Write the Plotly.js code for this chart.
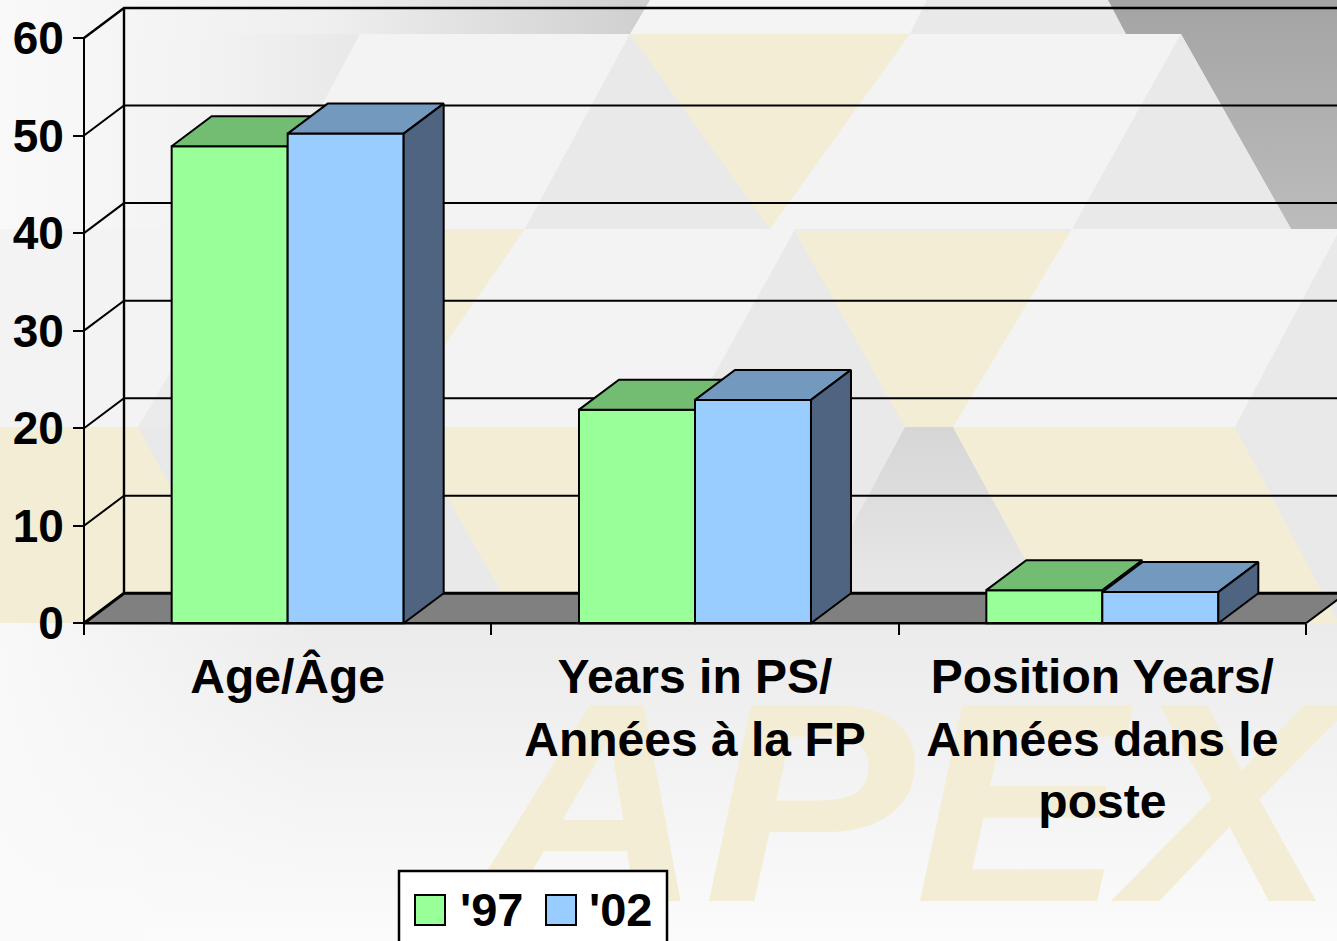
<!DOCTYPE html>
<html><head><meta charset="utf-8">
<script src="https://cdn.plot.ly/plotly-3.0.1.min.js"></script>
<style>html,body{margin:0;padding:0;overflow:hidden;background:#f6f6f6}</style>
</head><body><div id="chart" style="width:1337px;height:941px"></div>
<script>
const categories = ["Age/Âge", "Years in PS/<br>Années à la FP", "Position Years/<br>Années dans le<br>poste"];
const categoryCenters = [0.5, 1.5, 2.5];
const categoryEdges = [0, 1, 2, 3];
const seriesNames = ["'97", "'02"];
const values97 = [48.9, 21.9, 3.4];
const values02 = [50.2, 22.9, 3.2];
const yTicks = [0, 10, 20, 30, 40, 50, 60];

const W = 1337, H = 941, L = 78, R = 1337, T = 2, B = 630;
const originX = 84, originY = 623.3;
const catPx = 407.33, valPx = 9.755;
const xRange = [(L - originX) / catPx, (R - originX) / catPx];
const yRange = [(originY - B) / valPx, (originY - T) / valPx];
const px = x => (x - L) / (R - L), py = y => (B - y) / (B - T);
const barW = 116 / catPx, dx = 40 / catPx, dy = 30 / valPx;
const INK = '#000';

const bgSvg = `<svg xmlns="http://www.w3.org/2000/svg" width="${W}" height="${H}" viewBox="0 0 ${W} ${H}">
<defs>
<linearGradient id="a" x1="0" x2="1" y1="0" y2="0"><stop offset="0" stop-color="#f9f9f9"/><stop offset="0.6" stop-color="#f2f2f2"/><stop offset="1" stop-color="#e8e8e8"/></linearGradient>
<linearGradient id="t" x1="0" x2="1" y1="0" y2="0"><stop offset="0" stop-color="#f9f9f9"/><stop offset="0.5" stop-color="#efefef"/><stop offset="1" stop-color="#cfcfcf"/></linearGradient>
<linearGradient id="d" x1="0" x2="0" y1="0" y2="1"><stop offset="0" stop-color="#a4a4a4"/><stop offset="1" stop-color="#bcbcbc"/></linearGradient>
<linearGradient id="g" x1="0" x2="0" y1="0" y2="1"><stop offset="0" stop-color="#d6d6d6"/><stop offset="1" stop-color="#ebebeb"/></linearGradient>
<linearGradient id="b" x1="0" x2="0" y1="0" y2="1"><stop offset="0" stop-color="#ebebeb"/><stop offset="1" stop-color="#fbfbfb"/></linearGradient>
<linearGradient id="bl" x1="0" x2="1" y1="0" y2="0"><stop offset="0" stop-color="#fafafa" stop-opacity="0.9"/><stop offset="1" stop-color="#fafafa" stop-opacity="0"/></linearGradient>
</defs>
<rect width="${W}" height="${H}" fill="#ebebeb"/>
<rect x="0" y="0" width="650" height="34" fill="url(#t)"/>
<polygon points="650,0 927,0 910,34 630,34" fill="#f4f4f4"/>
<polygon points="927,0 1108,0 1126,34 910,34" fill="#e9e9e9"/>
<polygon points="1108,0 1337,0 1337,229 1291,229 1181,34 1126,34" fill="url(#d)"/>
<polygon points="0,34 360,34 255,229 0,229" fill="url(#a)"/>
<polygon points="360,34 630,34 525,229 255,229" fill="#f3f3f3"/>
<polygon points="630,34 770,229 525,229" fill="#e9e9e9"/>
<polygon points="630,34 910,34 770,229" fill="#f3edd6"/>
<polygon points="910,34 1181,34 1072,229 795,229 770,229" fill="#f3f3f3"/>
<polygon points="1181,34 1291,229 1072,229" fill="#e9e9e9"/>
<polygon points="0,229 255,229 138,427 0,427" fill="#f3f3f3"/>
<polygon points="255,229 525,229 388,427 360,427" fill="#f3edd6"/>
<polygon points="525,229 795,229 685,427 388,427" fill="#f3f3f3"/>
<polygon points="795,231 905,427 685,427" fill="#e9e9e9"/>
<polygon points="795,231 1072,231 953,427 905,427" fill="#f3edd6"/>
<polygon points="1072,229 1337,229 1337,235 1235,427 953,427" fill="#f3f3f3"/>
<polygon points="1337,235 1337,427 1235,427" fill="#e9e9e9"/>
<polygon points="0,427 138,427 245,623 0,623" fill="#f3edd6"/>
<polygon points="138,427 407,427 519,623 245,623" fill="#e9e9e9"/>
<polygon points="407,427 685,427 800,623 519,623" fill="#f3edd6"/>
<polygon points="685,427 905,427 800,623" fill="#e9e9e9"/>
<polygon points="905,427 953,427 1060,623 800,623" fill="url(#g)"/>
<polygon points="953,427 1235,427 1340,623 1060,623" fill="#f3edd6"/>
<polygon points="1235,427 1337,427 1337,620" fill="#e9e9e9"/>
<rect x="0" y="623" width="${W}" height="${H-623}" fill="url(#b)"/>
<rect x="0" y="623" width="320" height="${H-623}" fill="url(#bl)"/>
</svg>`;

const side = (cx, off, v) => ({
  x: [cx + off + barW, cx + off + barW + dx, cx + off + barW + dx, cx + off + barW, cx + off + barW],
  y: [0, dy, v + dy, v, 0]
});
const top3d = (cx, off, v) => ({
  x: [cx + off, cx + off + dx, cx + off + barW + dx, cx + off + barW, cx + off],
  y: [v, v + dy, v + dy, v, v]
});
const poly = (p, fill, xa, ya, w) => ({
  type: 'scatter', mode: 'lines', x: p.x, y: p.y, fill: 'toself', fillcolor: fill,
  line: {color: INK, width: w || 2}, xaxis: xa, yaxis: ya, cliponaxis: false,
  hoverinfo: 'skip', showlegend: false
});
const line = (xs, ys, w, xa, ya) => ({
  type: 'scatter', mode: 'lines', x: xs, y: ys, line: {color: INK, width: w},
  cliponaxis: false, hoverinfo: 'skip', showlegend: false, xaxis: xa || 'x', yaxis: ya || 'y'
});

const traces = [];
// floor
traces.push(poly({x: [0, dx, 3 + dx, 3, 0], y: [0, dy, dy, 0, 0]}, '#808080', 'x', 'y', 0.1));
// walls and gridlines
yTicks.forEach(v => {
  const w = v === 0 ? 3 : (v === 60 ? 2.4 : 2);
  traces.push(line([0, dx, 3 + dx], [v, v + dy, v + dy], w));
});
traces.push(line([dx, dx], [dy, 60 + dy], 2.4));
traces.push(line([0, 0], [0, 60], 2));
traces.push(line([3, 3 + dx], [0, dy], 2));

// '97 group on its own overlay, '02 group painted above it
traces.push({
  type: 'bar', name: seriesNames[0], x: categoryCenters, y: values97, width: barW, offset: -barW,
  marker: {color: '#99ff99', line: {color: INK, width: 2}}, xaxis: 'x2', yaxis: 'y2', showlegend: false
});
categoryCenters.forEach((c, i) => {
  traces.push(poly(top3d(c, -barW, values97[i]), '#73bd73', 'x2', 'y2'));
});
traces.push({
  type: 'bar', name: seriesNames[1], x: categoryCenters, y: values02, width: barW, offset: 0,
  marker: {color: '#99ccff', line: {color: INK, width: 2}}, xaxis: 'x3', yaxis: 'y3', showlegend: false
});
categoryCenters.forEach((c, i) => {
  traces.push(poly(top3d(c, 0, values02[i]), '#7399bf', 'x3', 'y3'));
  traces.push(poly(side(c, 0, values02[i]), '#4f6480', 'x3', 'y3'));
});
// front edge of the floor, above the bars
traces.push(line([0, 3], [0, 0], 2.5, 'x3', 'y3'));

const ghostX = {range: xRange, overlaying: 'x', visible: false, fixedrange: true};
const ghostY = {range: yRange, overlaying: 'y', visible: false, fixedrange: true};
const lbl = {family: 'Liberation Sans, Arial, sans-serif', color: INK, weight: 'bold'};

const legendShape = (x0, x1, y0, y1, fill, w) => ({
  type: 'rect', xref: 'paper', yref: 'paper', x0: px(x0), x1: px(x1), y0: py(y1), y1: py(y0),
  fillcolor: fill, line: {color: INK, width: w}
});

const layout = {
  width: W, height: H, autosize: false,
  margin: {l: L, r: W - R, t: T, b: H - B, pad: 0},
  paper_bgcolor: 'rgba(0,0,0,0)', plot_bgcolor: 'rgba(0,0,0,0)',
  showlegend: false, hovermode: false,
  barmode: 'overlay',
  xaxis: {
    range: xRange, anchor: 'free', position: py(originY),
    tickmode: 'array', tickvals: categoryCenters, ticktext: categories,
    ticks: '', ticklen: 0, showgrid: false, zeroline: false, showline: false,
    tickfont: Object.assign({size: 48}, lbl), tickangle: 0, automargin: false, ticklabelstandoff: 21,
    minor: {tickmode: 'array', tickvals: categoryEdges, ticks: 'outside', ticklen: 11, tickwidth: 2, tickcolor: INK, showgrid: false},
    fixedrange: true
  },
  yaxis: {
    range: yRange, anchor: 'free', position: px(originX),
    tickmode: 'array', tickvals: yTicks, ticks: 'outside', ticklen: 11, tickwidth: 2, tickcolor: INK,
    showgrid: false, zeroline: false, showline: false,
    tickfont: Object.assign({size: 46}, lbl), automargin: false, ticklabelstandoff: 0, fixedrange: true
  },
  xaxis2: Object.assign({}, ghostX), yaxis2: Object.assign({}, ghostY),
  xaxis3: Object.assign({}, ghostX), yaxis3: Object.assign({}, ghostY),
  images: [{
    source: 'data:image/svg+xml;charset=utf-8,' + encodeURIComponent(bgSvg),
    xref: 'paper', yref: 'paper', x: px(0), y: py(0), sizex: W / (R - L), sizey: H / (B - T),
    xanchor: 'left', yanchor: 'top', sizing: 'stretch', layer: 'below'
  }],
  shapes: [
    {type: 'rect', xref: 'paper', yref: 'paper', layer: 'below', x0: px(434), x1: px(1378), y0: py(945), y1: py(605),
     line: {width: 0}, fillcolor: 'rgba(0,0,0,0)',
     label: {text: 'APEX', textposition: 'middle center',
       font: {family: 'Liberation Sans, Arial, sans-serif', size: 285, color: '#f3edd6', style: 'italic', weight: 'bold'}}},
    legendShape(399, 667, 871, 960, '#ffffff', 2.5),
    legendShape(415, 445, 895, 925, '#99ff99', 2),
    legendShape(546, 576, 895, 925, '#99ccff', 2)
  ],
  annotations: [
    {xref: 'paper', yref: 'paper', x: px(458), y: py(910), xanchor: 'left', yanchor: 'middle', showarrow: false,
     text: seriesNames[0], font: Object.assign({size: 47}, lbl)},
    {xref: 'paper', yref: 'paper', x: px(587), y: py(910), xanchor: 'left', yanchor: 'middle', showarrow: false,
     text: seriesNames[1], font: Object.assign({size: 47}, lbl)}
  ]
};
Plotly.newPlot('chart', traces, layout, {displayModeBar: false, staticPlot: true}).then(() => {
  // the watermark is drawn wider than the font's natural proportions
  document.querySelectorAll('#chart .shapelayer text').forEach(t => {
    if (t.textContent === 'APEX') {
      t.style.transformBox = 'fill-box';
      t.style.transformOrigin = 'center';
      t.style.transform = 'scaleX(1.11)';
    }
  });
});
</script></body></html>
